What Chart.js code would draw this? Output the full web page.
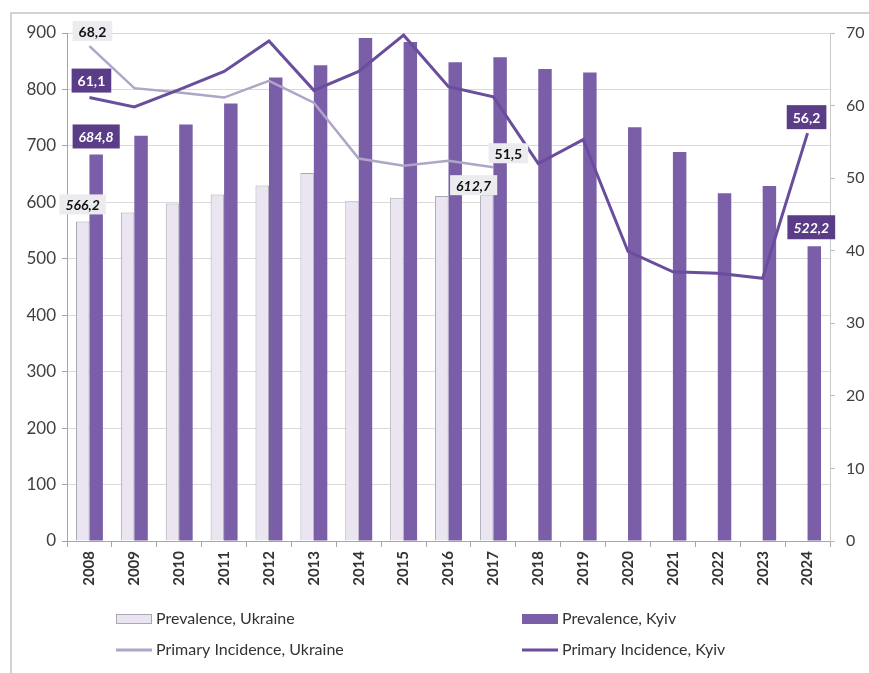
<!DOCTYPE html>
<html>
<head>
<meta charset="utf-8">
<script src="https://cdn.jsdelivr.net/npm/chart.js@4"></script>
<style>
  body { margin: 0; background: #fff; }
  canvas { display: block; }
</style>
</head>
<body>
<canvas id="chart" width="869" height="673"></canvas>
<script>
const years = ['2008', '2009', '2010', '2011', '2012', '2013', '2014', '2015', '2016',
               '2017', '2018', '2019', '2020', '2021', '2022', '2023', '2024'];

const prevalenceUkraine = [566.2, 582, 598, 614, 630, 652, 602, 608, 611, 612.7,
                           null, null, null, null, null, null, null];
const prevalenceKyiv = [684.8, 718, 738, 775, 821, 843, 891, 884, 848, 857,
                        836, 830, 733, 689, 616, 629, 522.2];
const incidenceUkraine = [68.2, 62.4, 61.8, 61.1, 63.4, 60.4, 52.7, 51.7, 52.4, 51.5,
                          null, null, null, null, null, null, null];
const incidenceKyiv = [61.1, 59.8, 62.2, 64.7, 68.9, 62.1, 64.7, 69.7, 62.6, 61.2,
                       52.0, 55.3, 39.9, 37.1, 36.9, 36.2, 56.2];

const leftTicks = [0, 100, 200, 300, 400, 500, 600, 700, 800, 900];
const rightTicks = [0, 10, 20, 30, 40, 50, 60, 70];

const colDarkBar = '#7a5ea8';
const colLightBar = '#ebe5f2';
const colLightBorder = '#a9a7b3';
const colUkrLine = '#aca6c7';
const colKyivLine = '#6a4d9d';
const colDarkBox = '#5b3d87';
const colLightBox = '#ececf0';

Chart.defaults.font.family = 'Lato';

// which values get a label box: dataset index, point index, offset, style
const valueLabels = [
    { ds: 2, i: 0, dx: 3, dy: -15, dark: false, italic: false },
    { ds: 3, i: 0, dx: 2, dy: -17, dark: true, italic: false },
    { ds: 1, i: 0, dx: 0, dy: -18, dark: true, italic: true },
    { ds: 0, i: 0, dx: 0, dy: -17, dark: false, italic: true },
    { ds: 2, i: 9, dx: 15, dy: -14, dark: false, italic: false },
    { ds: 0, i: 9, dx: -13, dy: -10, dark: false, italic: true },
    { ds: 3, i: 16, dx: -1, dy: -16, dark: true, italic: false },
    { ds: 1, i: 16, dx: -3, dy: -19, dark: true, italic: true }
];

const labelPlugin = {
    id: 'valueLabels',
    afterDatasetsDraw(chart) {
        const ctx = chart.ctx;
        ctx.save();
        valueLabels.forEach(l => {
            const el = chart.getDatasetMeta(l.ds).data[l.i];
            const v = chart.data.datasets[l.ds].data[l.i];
            const txt = v.toFixed(1).replace('.', ',');
            ctx.font = (l.italic ? 'italic ' : '') + 'bold 14px Lato';
            const w = ctx.measureText(txt).width + 12;
            const h = l.dark ? 24 : 20;
            const cx = el.x + l.dx, cy = el.y + l.dy;
            ctx.fillStyle = l.dark ? colDarkBox : colLightBox;
            ctx.fillRect(cx - w / 2, cy - h / 2, w, h);
            ctx.fillStyle = l.dark ? '#ffffff' : '#111111';
            ctx.textAlign = 'center';
            ctx.textBaseline = 'middle';
            ctx.fillText(txt, cx, cy + 1);
        });
        ctx.restore();
    }
};

const framePlugin = {
    id: 'frame',
    beforeDraw(chart) {
        const ctx = chart.ctx;
        ctx.save();
        ctx.fillStyle = '#fff';
        ctx.fillRect(0, 0, chart.width, chart.height);
        ctx.strokeStyle = '#d2d2d2';
        ctx.lineWidth = 2;
        ctx.beginPath();
        ctx.moveTo(11, chart.height);
        ctx.lineTo(11, 13);
        ctx.lineTo(chart.width, 13);
        ctx.stroke();
        ctx.restore();
    },
    afterDraw(chart) {
        // two-column legend like the original
        const ctx = chart.ctx;
        const ds = chart.data.datasets;
        const slots = [
            { d: 0, x: 116, y: 619 }, { d: 1, x: 522, y: 619 },
            { d: 2, x: 116, y: 650 }, { d: 3, x: 522, y: 650 }
        ];
        ctx.save();
        ctx.font = '16px Lato';
        ctx.textBaseline = 'middle';
        ctx.textAlign = 'left';
        slots.forEach(s => {
            const d = ds[s.d];
            if (d.type === 'line') {
                ctx.strokeStyle = d.borderColor;
                ctx.lineWidth = 3;
                ctx.beginPath();
                ctx.moveTo(s.x, s.y);
                ctx.lineTo(s.x + 36, s.y);
                ctx.stroke();
            } else {
                ctx.fillStyle = d.backgroundColor;
                ctx.fillRect(s.x, s.y - 5, 36, 10);
                if (d.borderWidth) {
                    ctx.strokeStyle = d.borderColor;
                    ctx.lineWidth = 1;
                    ctx.strokeRect(s.x + 0.5, s.y - 4.5, 35, 9);
                }
            }
            ctx.fillStyle = '#333';
            ctx.fillText(d.label, s.x + 40, s.y);
        });
        ctx.restore();
    }
};

new Chart(document.getElementById('chart'), {
    data: {
        labels: years,
        datasets: [
            {
                type: 'bar', label: 'Prevalence, Ukraine', data: prevalenceUkraine,
                backgroundColor: colLightBar, borderColor: colLightBorder, borderWidth: 1,
                yAxisID: 'y', order: 2,
                categoryPercentage: 0.6, barPercentage: 1.0
            },
            {
                type: 'bar', label: 'Prevalence, Kyiv', data: prevalenceKyiv,
                backgroundColor: colDarkBar, borderWidth: 0,
                yAxisID: 'y', order: 2,
                categoryPercentage: 0.6, barPercentage: 1.0
            },
            {
                type: 'line', label: 'Primary Incidence, Ukraine', data: incidenceUkraine,
                borderColor: colUkrLine, borderWidth: 2.5, pointRadius: 0, tension: 0,
                yAxisID: 'y1', order: 1
            },
            {
                type: 'line', label: 'Primary Incidence, Kyiv', data: incidenceKyiv,
                borderColor: colKyivLine, borderWidth: 3, pointRadius: 0, tension: 0,
                yAxisID: 'y1', order: 0
            }
        ]
    },
    options: {
        responsive: false,
        animation: false,
        layout: { padding: { top: 33, bottom: 72, left: 0, right: 0 } },
        plugins: {
            legend: { display: false },
            tooltip: { enabled: false }
        },
        scales: {
            x: {
                offset: true,
                grid: { offset: true, drawOnChartArea: false, drawTicks: true, tickLength: 6, color: '#a6a6a6' },
                border: { color: '#a6a6a6' },
                ticks: { minRotation: 90, maxRotation: 90, padding: 4, color: '#333', font: { size: 15, weight: 'bold' } },
                afterFit(s) { s.height = 60; }
            },
            y: {
                position: 'left', min: 0, max: 900,
                afterBuildTicks(s) { s.ticks = leftTicks.map(v => ({ value: v })); },
                grid: { color: '#dadada', tickLength: 5, tickColor: '#a6a6a6' },
                border: { color: '#a6a6a6' },
                ticks: { padding: 6, color: '#404040', font: { size: 17 } },
                afterFit(s) { s.width = 67; }
            },
            y1: {
                position: 'right', min: 0, max: 70,
                afterBuildTicks(s) { s.ticks = rightTicks.map(v => ({ value: v })); },
                grid: { drawOnChartArea: false, tickLength: 5, color: '#bdbdbd' },
                border: { color: '#c8c8c8' },
                ticks: { padding: 11, color: '#404040', font: { size: 16 } },
                afterFit(s) { s.width = 39; }
            }
        }
    },
    plugins: [framePlugin, labelPlugin]
});
</script>
</body>
</html>
